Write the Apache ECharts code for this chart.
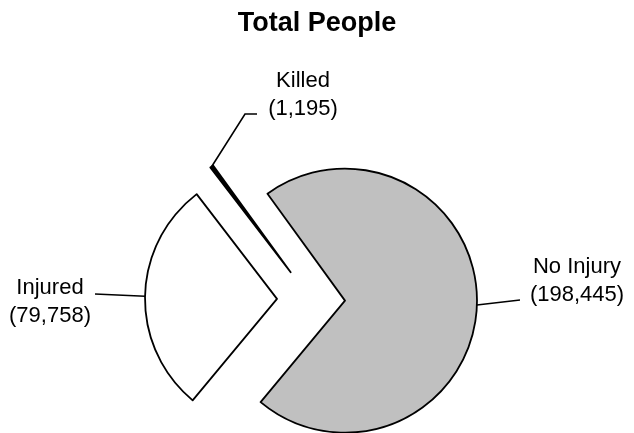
<!DOCTYPE html>
<html>
<head>
<meta charset="utf-8">
<script src="https://cdn.jsdelivr.net/npm/echarts@6/dist/echarts.min.js"></script>
<style>
  html, body { margin: 0; padding: 0; background: #fff; }
  #chart { width: 634px; height: 433px; }
</style>
</head>
<body>
<div id="chart"></div>
<script>
  const categories = ['Killed', 'No Injury', 'Injured'];
  const values = [1195, 198445, 79758];
  const fills = ['#000000', '#c0c0c0', '#ffffff'];

  // pie geometry (px)
  const cx = 311, cy = 299.5, radius = 132, explode = 34, startAngle = 127.5;

  // where each label sits and how its leader bends (after the edge point)
  const labelPos = {
    'Killed': { x: 303, y: 95, bend: [[245, 114], [257, 114]] },
    'Injured': { x: 50, y: 302, bend: [[95, 294]] },
    'No Injury': { x: 577, y: 281, bend: [[520, 300]] },
  };

  const total = values.reduce((a, b) => a + b, 0);
  let cum = 0;
  const series = categories.map((name, i) => {
    const mid = (startAngle - (cum + values[i] / 2) / total * 360) * Math.PI / 180;
    cum += values[i];
    return {
      type: 'pie',
      silent: true,
      clockwise: true,
      startAngle: startAngle,
      radius: radius,
      center: [cx + explode * Math.cos(mid), cy - explode * Math.sin(mid)],
      avoidLabelOverlap: false,
      emphasis: { disabled: true },
      data: categories.map((n, j) => ({
        name: n,
        value: values[j],
        itemStyle: j === i
          ? { color: fills[j], borderColor: '#000', borderWidth: 1.8 }
          : { color: 'rgba(0,0,0,0)', borderWidth: 0 },
        label: { show: j === i },
        labelLine: { show: j === i },
      })),
      label: {
        position: 'outside',
        color: '#000',
        fontFamily: 'Arial, "Liberation Sans", sans-serif',
        fontSize: 22,
        lineHeight: 28,
        align: 'center',
        formatter: (p) => p.name + '\n(' + p.value.toLocaleString('en-US') + ')',
      },
      labelLine: {
        lineStyle: { color: '#000', width: 1.6 },
      },
      labelLayout: (params) => {
        const pos = labelPos[categories[params.dataIndex]];
        const start = params.labelLinePoints ? params.labelLinePoints[0] : null;
        const res = { x: pos.x, y: pos.y, align: 'center', verticalAlign: 'middle' };
        if (start) res.labelLinePoints = [start].concat(pos.bend);
        return res;
      },
    };
  });

  const chart = echarts.init(document.getElementById('chart'));
  chart.setOption({
    animation: false,
    backgroundColor: '#fff',
    title: {
      text: 'Total People',
      left: 'center',
      top: 5,
      padding: [5, 0, 5, 8],
      textStyle: {
        fontFamily: 'Arial, "Liberation Sans", sans-serif',
        fontWeight: 'bold',
        fontSize: 27,
        color: '#000',
      },
    },
    series: series,
  });
</script>
</body>
</html>
